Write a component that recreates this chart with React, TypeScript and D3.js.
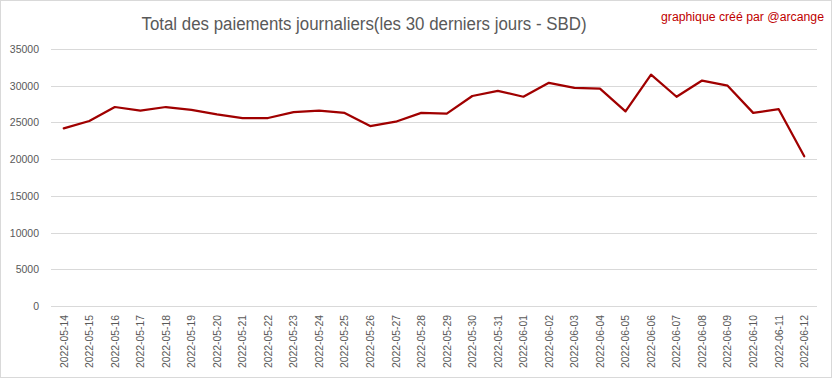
import React from "react";
import * as d3 from "d3";

const dates: string[] = [
  "2022-05-14", "2022-05-15", "2022-05-16", "2022-05-17", "2022-05-18", "2022-05-19",
  "2022-05-20", "2022-05-21", "2022-05-22", "2022-05-23", "2022-05-24", "2022-05-25",
  "2022-05-26", "2022-05-27", "2022-05-28", "2022-05-29", "2022-05-30", "2022-05-31",
  "2022-06-01", "2022-06-02", "2022-06-03", "2022-06-04", "2022-06-05", "2022-06-06",
  "2022-06-07", "2022-06-08", "2022-06-09", "2022-06-10", "2022-06-11", "2022-06-12",
];

const payments: number[] = [
  24200, 25200, 27100, 26600, 27100, 26700,
  26100, 25600, 25600, 26400, 26600, 26300,
  24500, 25100, 26300, 26200, 28600, 29300,
  28500, 30400, 29700, 29600, 26500, 31500,
  28500, 30700, 30000, 26300, 26800, 20400,
];

const yTicks: number[] = [0, 5000, 10000, 15000, 20000, 25000, 30000, 35000];

const title = "Total des paiements journaliers(les 30 derniers jours - SBD)";
const credit = "graphique créé par @arcange";

const W = 833;
const H = 379;
const plot = { left: 51, right: 817, top: 49, bottom: 306 };
const FONT = "'Liberation Sans', Arial, sans-serif";

export default function App() {
  const x = d3
    .scaleBand<string>()
    .domain(dates)
    .range([plot.left, plot.right])
    .padding(0);
  const y = d3.scaleLinear().domain([0, 35000]).range([plot.bottom, plot.top]);
  const cx = (d: string) => (x(d) as number) + x.bandwidth() / 2;

  const line = d3
    .line<number>()
    .x((_, i) => cx(dates[i]))
    .y((v) => y(v));

  return (
    <div style={{ position: "fixed", left: 0, top: 0 }}>
      <svg width={W} height={H} style={{ display: "block", background: "#fff" }}>
        <rect x={0.5} y={0.5} width={831} height={377} fill="#fff" stroke="#d9d9d9" strokeWidth={1} />
        <text
          x={364}
          y={30}
          textAnchor="middle"
          fontFamily={FONT}
          fontSize={18}
          fill="#595959"
          textLength={445}
          lengthAdjust="spacingAndGlyphs"
        >
          {title}
        </text>
        <text
          x={824}
          y={21}
          textAnchor="end"
          fontFamily={FONT}
          fontSize={12}
          fill="#c00000"
          textLength={163}
          lengthAdjust="spacingAndGlyphs"
        >
          {credit}
        </text>
        {yTicks.map((t) => (
          <g key={t}>
            <line
              x1={plot.left}
              x2={plot.right}
              y1={Math.round(y(t)) + 0.5}
              y2={Math.round(y(t)) + 0.5}
              stroke="#d9d9d9"
              strokeWidth={1}
            />
            <text
              x={39}
              y={y(t) + 4}
              textAnchor="end"
              fontFamily={FONT}
              fontSize={10.5}
              fill="#595959"
            >
              {t}
            </text>
          </g>
        ))}
        {dates.map((d) => (
          <text
            key={d}
            transform={`translate(${cx(d) + 3.8},315) rotate(-90)`}
            textAnchor="end"
            fontFamily={FONT}
            fontSize={10.5}
            fill="#595959"
            textLength={53}
            lengthAdjust="spacingAndGlyphs"
          >
            {d}
          </text>
        ))}
        <path
          d={line(payments) || ""}
          fill="none"
          stroke="#a00000"
          strokeWidth={2.25}
          strokeLinejoin="round"
          strokeLinecap="round"
        />
      </svg>
    </div>
  );
}
